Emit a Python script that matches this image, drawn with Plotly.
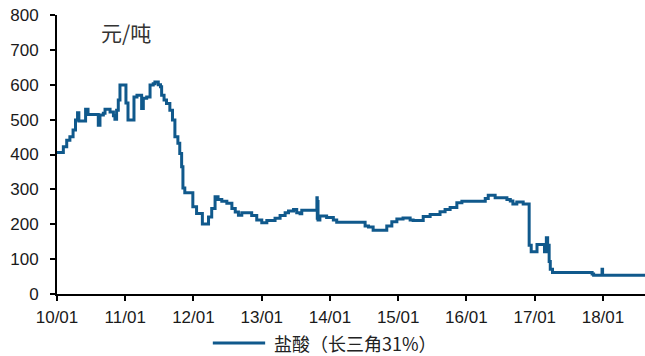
import plotly.graph_objects as go

dates = [
    "2010-01-01", "2010-02-04", "2010-02-22", "2010-03-11", "2010-03-28", "2010-04-10",
    "2010-04-21", "2010-04-28", "2010-06-03", "2010-06-16", "2010-08-10", "2010-08-19",
    "2010-09-06", "2010-09-15", "2010-10-12", "2010-10-30", "2010-11-07", "2010-11-16",
    "2010-11-25", "2010-12-04", "2011-01-05", "2011-01-16", "2011-02-17", "2011-03-05",
    "2011-03-30", "2011-04-08", "2011-04-26", "2011-05-14", "2011-05-31", "2011-06-09",
    "2011-06-27", "2011-07-09", "2011-07-15", "2011-07-28", "2011-08-10", "2011-08-28",
    "2011-09-11", "2011-09-24", "2011-10-10", "2011-10-20", "2011-10-30", "2011-11-06",
    "2011-11-16", "2011-12-29", "2012-01-18", "2012-02-18", "2012-03-22", "2012-04-08",
    "2012-04-26", "2012-05-12", "2012-06-01", "2012-06-28", "2012-07-25", "2012-08-12",
    "2012-08-29", "2012-09-16", "2012-11-08", "2012-12-05", "2013-01-01", "2013-01-28",
    "2013-03-13", "2013-04-09", "2013-05-06", "2013-05-24", "2013-06-20", "2013-07-07",
    "2013-07-25", "2013-08-03", "2013-10-23", "2013-10-25", "2013-10-27", "2013-10-29",
    "2013-11-08", "2013-12-14", "2014-01-19", "2014-02-06", "2014-07-08", "2014-07-26",
    "2014-08-20", "2014-11-01", "2014-11-28", "2014-12-25", "2015-01-27", "2015-03-06",
    "2015-03-22", "2015-05-15", "2015-06-21", "2015-08-13", "2015-09-09", "2015-10-06",
    "2015-11-11", "2015-12-08", "2016-04-11", "2016-04-27", "2016-06-03", "2016-08-05",
    "2016-08-23", "2016-09-06", "2016-09-27", "2016-10-31", "2016-12-02", "2016-12-13",
    "2017-01-13", "2017-02-22", "2017-03-04", "2017-03-11", "2017-03-19", "2017-03-25",
    "2017-04-06", "2017-11-04", "2017-11-12", "2017-12-27", "2017-12-30", "2018-08-14",
]
prices = [
    406, 422, 441, 451, 470, 499,
    520, 496, 530, 515, 484, 513,
    518, 530, 522, 511, 501, 527,
    556, 599, 548, 499, 565, 570,
    532, 561, 565, 599, 603, 608,
    600, 594, 570, 556, 546, 527,
    499, 451, 432, 403, 365, 304,
    290, 250, 231, 201, 221, 245,
    279, 271, 266, 260, 245, 235,
    226, 233, 225, 212, 204, 211,
    217, 225, 233, 238, 242, 233,
    230, 240, 276, 217, 265, 212,
    224, 219, 212, 206, 195, 192,
    183, 195, 207, 215, 218, 212,
    211, 222, 228, 236, 242, 248,
    262, 266, 274, 283, 276, 271,
    267, 258, 264, 258, 140, 121,
    142, 121, 161, 140, 93, 71,
    62, 57, 54, 71, 54, 54,
]

x_tickvals = ["2010-01-01", "2011-01-01", "2012-01-01", "2013-01-01", "2014-01-01",
              "2015-01-01", "2016-01-01", "2017-01-01", "2018-01-01"]
x_ticktext = ["10/01", "11/01", "12/01", "13/01", "14/01", "15/01", "16/01", "17/01", "18/01"]
y_tickvals = [0, 100, 200, 300, 400, 500, 600, 700, 800]

series_name = "盐酸（长三角31%）"
unit_label = "元/吨"
line_color = "#10598c"

fig = go.Figure()
fig.add_trace(go.Scatter(
    x=dates, y=prices, mode="lines", name=series_name,
    line=dict(color=line_color, width=3, shape="hv"),
    showlegend=False,
))

tick_font = dict(family="Liberation Sans, Arial, sans-serif", size=17, color="#1a1a1a")

fig.update_layout(
    width=645, height=356,
    margin=dict(l=57, r=0, t=15, b=62),
    paper_bgcolor="white", plot_bgcolor="white",
    showlegend=False,
    xaxis=dict(
        type="date", range=["2010-01-01", "2018-08-14"],
        tickvals=x_tickvals, ticktext=x_ticktext,
        showgrid=False, zeroline=False, automargin=False,
        showline=True, linecolor="black", linewidth=2,
        ticks="outside", ticklen=5, tickwidth=2, tickcolor="black",
        tickfont=tick_font, ticklabelstandoff=2, ticklabeloverflow="allow",
    ),
    yaxis=dict(
        range=[0, 800], tickvals=y_tickvals,
        showgrid=False, zeroline=False, automargin=False,
        showline=True, linecolor="black", linewidth=2,
        ticks="outside", ticklen=5, tickwidth=2, tickcolor="black",
        tickfont=tick_font, ticklabelstandoff=8, ticklabeloverflow="allow",
    ),
    shapes=[dict(
        type="line", xref="paper", yref="paper",
        x0=0.265, x1=0.354, y0=-0.1756, y1=-0.1756,
        line=dict(color=line_color, width=3),
    )],
    annotations=[
        dict(
            text=unit_label, xref="paper", yref="paper", x=0.071, y=0.939,
            xanchor="left", yanchor="middle", showarrow=False,
            font=dict(family="Noto Sans CJK SC, sans-serif", size=21, color="#333"),
        ),
        dict(
            text=series_name, xref="paper", yref="paper", x=0.365, y=-0.1756,
            xanchor="left", yanchor="middle", showarrow=False,
            font=dict(family="Noto Sans CJK SC, sans-serif", size=18, color="#222"),
        ),
    ],
)

fig.write_html(
    "out.html",
    config={"displayModeBar": False},
    post_script="document.body.style.margin='0';document.documentElement.style.overflow='hidden';",
)
